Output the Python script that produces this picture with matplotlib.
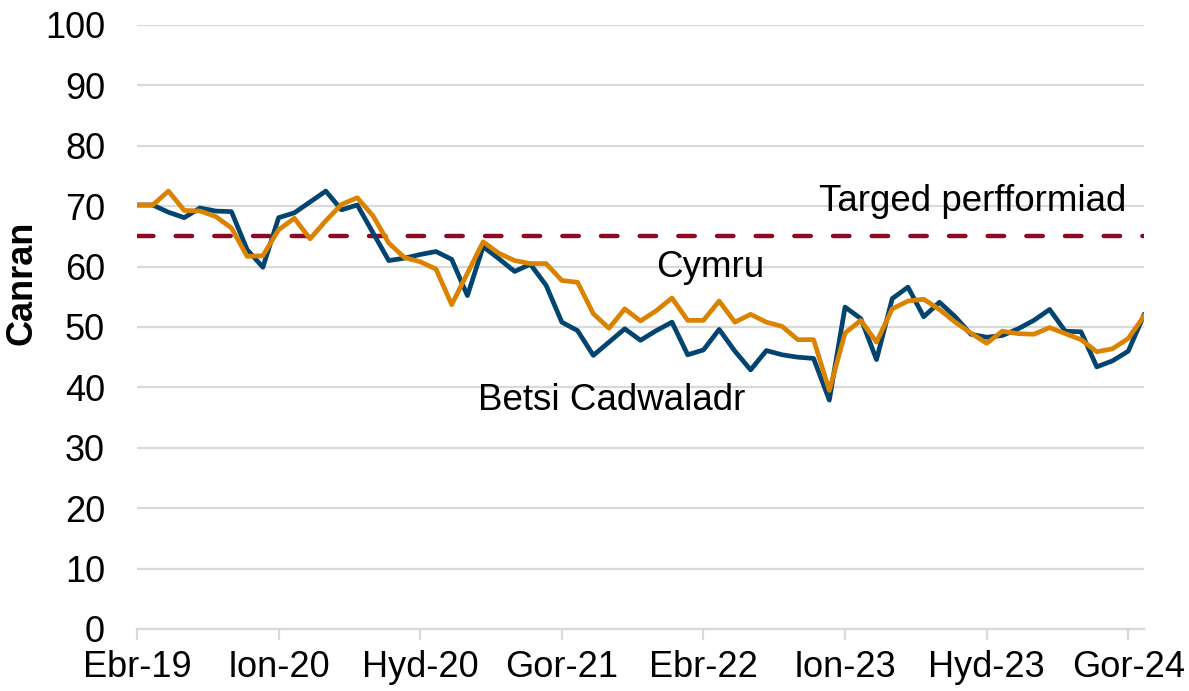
import matplotlib
matplotlib.use("Agg")
from matplotlib import pyplot as plt
import numpy as np

# Misoedd (Ebr-19 i Awst-24)
misoedd = ["Ion", "Chw", "Maw", "Ebr", "Mai", "Meh", "Gor", "Awst", "Medi", "Hyd", "Tach", "Rhag"]
categories = []
for n in range(65):
    m = (3 + n) % 12
    yr = 19 + (3 + n) // 12
    categories.append(f"{misoedd[m]}-{yr}")

# Canran - Betsi Cadwaladr
betsi = [70.2, 70.2, 69.0, 68.1, 69.7, 69.2, 69.1, 62.8, 59.9, 68.1,
         68.9, 70.7, 72.5, 69.4, 70.2, 65.6, 61.0, 61.4, 62.0, 62.5,
         61.2, 55.2, 63.3, 61.3, 59.2, 60.4, 56.9, 50.8, 49.4, 45.3,
         47.5, 49.7, 47.8, 49.4, 50.8, 45.4, 46.2, 49.6, 46.0, 42.9,
         46.1, 45.4, 45.0, 44.8, 37.9, 53.3, 51.4, 44.6, 54.7, 56.6,
         51.7, 54.1, 51.7, 48.8, 48.3, 48.6, 49.7, 51.1, 52.9, 49.3,
         49.2, 43.4, 44.4, 46.0, 52.0]

# Canran - Cymru
cymru = [70.2, 70.2, 72.5, 69.3, 69.2, 68.3, 66.4, 61.7, 61.8, 66.1,
         68.0, 64.6, 67.6, 70.3, 71.4, 68.4, 63.9, 61.5, 60.8, 59.6,
         53.7, 58.9, 64.1, 62.2, 61.0, 60.5, 60.5, 57.7, 57.4, 52.2,
         49.8, 53.0, 51.0, 52.7, 54.8, 51.1, 51.1, 54.3, 50.8, 52.1,
         50.8, 50.1, 47.9, 47.9, 39.5, 49.0, 51.1, 47.5, 53.0, 54.3,
         54.6, 52.9, 50.8, 49.0, 47.3, 49.3, 48.9, 48.8, 49.9, 48.9,
         47.9, 45.9, 46.4, 48.1, 51.8]

targed = 65

plt.rcParams["font.family"] = ["Liberation Sans", "DejaVu Sans"]

fig = plt.figure(figsize=(11.89, 6.91), dpi=100)
ax = fig.add_axes([137 / 1189, 1 - 629 / 691, (1144 - 137) / 1189, (629 - 25) / 691])

x = np.arange(len(categories))

# llinell darged
ax.plot([x[0], x[-1]], [targed, targed], color="#8C0A24", lw=3.2,
        dashes=(3.7, 5.0), dash_capstyle="round", zorder=3)
ax.plot(x, betsi, color="#00446F", lw=3.4, zorder=4)
ax.plot(x, cymru, color="#DB8200", lw=3.4, zorder=5)

ax.set_xlim(0, len(categories) - 1)
ax.set_ylim(0, 100)
ax.set_yticks(range(0, 101, 10))
ax.yaxis.grid(True, color="#D9D9D9", lw=1.6)
ax.set_axisbelow(True)

ticks = list(range(0, len(categories), 9))
ax.set_xticks(ticks)
ax.set_xticklabels([categories[t] for t in ticks])

for s in ["top", "right", "left"]:
    ax.spines[s].set_visible(False)
ax.spines["bottom"].set_color("#D9D9D9")
ax.spines["bottom"].set_linewidth(1.6)

ax.tick_params(axis="y", length=0, pad=23, labelsize=26)
ax.tick_params(axis="x", length=8, width=1.6, color="#D9D9D9", pad=7, labelsize=26)

ax.text(53.1, 70.7, "Targed perfformiad", fontsize=26.5, ha="center", va="center")
ax.text(36.4, 59.8, "Cymru", fontsize=26.5, ha="center", va="center")
ax.text(30.2, 37.9, "Betsi Cadwaladr", fontsize=26.5, ha="center", va="center")

fig.text(22 / 1189, 1 - 283 / 691, "Canran", fontsize=26, fontweight="bold",
         rotation=90, ha="center", va="center")

fig.savefig("out.png", dpi=100)
